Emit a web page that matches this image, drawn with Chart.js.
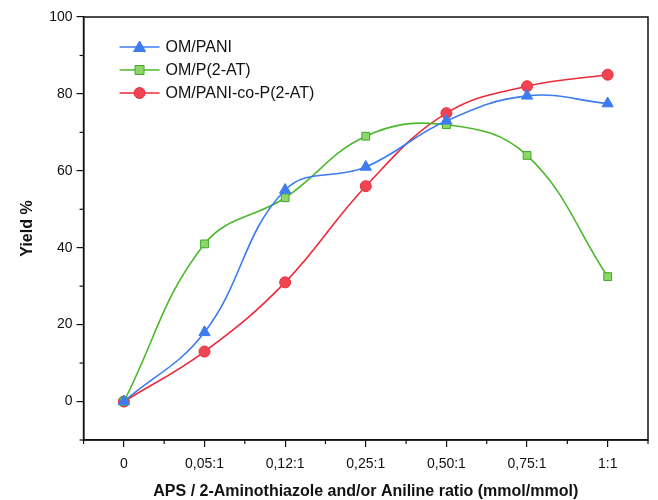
<!DOCTYPE html>
<html>
<head>
<meta charset="utf-8">
<script src="https://cdn.jsdelivr.net/npm/chart.js@4"></script>
<style>
  html, body { margin: 0; padding: 0; background: #fff; }
  #wrap { width: 658px; height: 500px; }
</style>
</head>
<body>
<div id="wrap"><canvas id="yieldChart" width="658" height="500"></canvas></div>
<script>
// ratios on the x axis
var ratios = ["0", "0,05:1", "0,12:1", "0,25:1", "0,50:1", "0,75:1", "1:1"];
// yield % for each material
var pani = [0, 18, 55, 61, 73, 79.5, 77.5];
var p2at = [0, 41, 53, 69, 72, 64, 32.5];
var copolymer = [0, 13, 31, 56, 75, 82, 85];
var yTicks = [0, 20, 40, 60, 80, 100];

function toPoints(arr) {
    return arr.map(function (v, i) { return { x: i, y: v }; });
}

// box around the plot, minor ticks and the legend inside the plot
var framePlugin = {
    id: 'frame',
    afterDraw: function (chart) {
        var c = chart.ctx, a = chart.chartArea;
        var xs = chart.scales.x, ys = chart.scales.y;
        c.save();
        c.strokeStyle = '#111';
        c.lineWidth = 1.5;
        c.strokeRect(a.left, a.top, a.right - a.left, a.bottom - a.top);
        c.lineWidth = 1.2;
        // minor ticks
        for (var v = -10; v <= 100; v += 10) {
            if (v % 20 === 0) continue;
            var py = ys.getPixelForValue(v);
            c.beginPath(); c.moveTo(a.left - 4, py); c.lineTo(a.left, py); c.stroke();
        }
        for (var i = -0.5; i <= 6.5; i += 1) {
            var px = xs.getPixelForValue(i);
            c.beginPath(); c.moveTo(px, a.bottom); c.lineTo(px, a.bottom + 4); c.stroke();
        }
        // legend
        var lx = a.left + 36, ly = a.top + 30;
        c.font = '16px "Liberation Sans", Arial, sans-serif';
        c.textBaseline = 'middle';
        chart.data.datasets.forEach(function (ds, k) {
            var y = ly + k * 23;
            c.strokeStyle = ds.borderColor;
            c.lineWidth = 1.5;
            c.beginPath(); c.moveTo(lx, y); c.lineTo(lx + 40, y); c.stroke();
            c.fillStyle = ds.pointBackgroundColor;
            c.strokeStyle = ds.pointBorderColor;
            c.lineWidth = 1;
            var mx = lx + 20;
            c.beginPath();
            if (ds.pointStyle === 'triangle') {
                c.moveTo(mx, y - 6); c.lineTo(mx + 6, y + 4.5); c.lineTo(mx - 6, y + 4.5); c.closePath();
            } else if (ds.pointStyle === 'rect') {
                c.rect(mx - 4.5, y - 4.5, 9, 9);
            } else {
                c.arc(mx, y, 5.5, 0, Math.PI * 2);
            }
            c.fill(); c.stroke();
            c.fillStyle = '#111';
            c.fillText(ds.label, lx + 46, y + 1);
        });
        c.restore();
    }
};

var ctx = document.getElementById('yieldChart').getContext('2d');
new Chart(ctx, {
    type: 'line',
    data: {
        datasets: [
            {
                label: 'OM/PANI',
                data: toPoints(pani),
                borderColor: '#3d7cf0',
                pointBackgroundColor: '#3d7cf0',
                pointBorderColor: '#3d7cf0',
                pointStyle: 'triangle',
                pointRadius: 6.5
            },
            {
                label: 'OM/P(2-AT)',
                data: toPoints(p2at),
                borderColor: '#4cb82b',
                pointBackgroundColor: '#8fd66a',
                pointBorderColor: '#3fa82a',
                pointStyle: 'rect',
                pointRadius: 5.5
            },
            {
                label: 'OM/PANI-co-P(2-AT)',
                data: toPoints(copolymer),
                borderColor: '#ec2a3a',
                pointBackgroundColor: '#f04452',
                pointBorderColor: '#ec2a3a',
                pointStyle: 'circle',
                pointRadius: 5.5
            }
        ]
    },
    options: {
        responsive: false,
        animation: false,
        elements: {
            line: { borderWidth: 1.6, tension: 0.4, fill: false },
            point: { borderWidth: 1 }
        },
        layout: { padding: { top: 17, right: 10, left: 12, bottom: 0 } },
        plugins: { legend: { display: false }, tooltip: { enabled: false } },
        scales: {
            x: {
                type: 'linear',
                min: -0.5,
                max: 6.5,
                afterBuildTicks: function (axis) {
                    axis.ticks = ratios.map(function (r, i) { return { value: i }; });
                },
                ticks: {
                    callback: function (v) { return ratios[v]; },
                    color: '#111',
                    font: { family: '"Liberation Sans", Arial, sans-serif', size: 14 },
                    padding: 9,
                    maxRotation: 0
                },
                grid: { drawOnChartArea: false, color: '#111', tickLength: 7, lineWidth: 1.2 },
                border: { color: '#111', width: 1.5 },
                title: {
                    display: true,
                    text: 'APS / 2-Aminothiazole and/or Aniline ratio (mmol/mmol)',
                    color: '#111',
                    font: { family: '"Liberation Sans", Arial, sans-serif', size: 16, weight: 'bold' },
                    padding: { top: 0, bottom: -1 }
                }
            },
            y: {
                min: -10,
                max: 100,
                afterBuildTicks: function (axis) {
                    axis.ticks = yTicks.map(function (v) { return { value: v }; });
                },
                ticks: {
                    color: '#111',
                    font: { family: '"Liberation Sans", Arial, sans-serif', size: 14 },
                    padding: 4
                },
                grid: { drawOnChartArea: false, color: '#111', tickLength: 7, lineWidth: 1.2 },
                border: { color: '#111', width: 1.5 },
                title: {
                    display: true,
                    text: 'Yield %',
                    color: '#111',
                    font: { family: '"Liberation Sans", Arial, sans-serif', size: 16, weight: 'bold' },
                    padding: { top: 6, bottom: 8 }
                }
            }
        }
    },
    plugins: [framePlugin]
});
</script>
</body>
</html>
